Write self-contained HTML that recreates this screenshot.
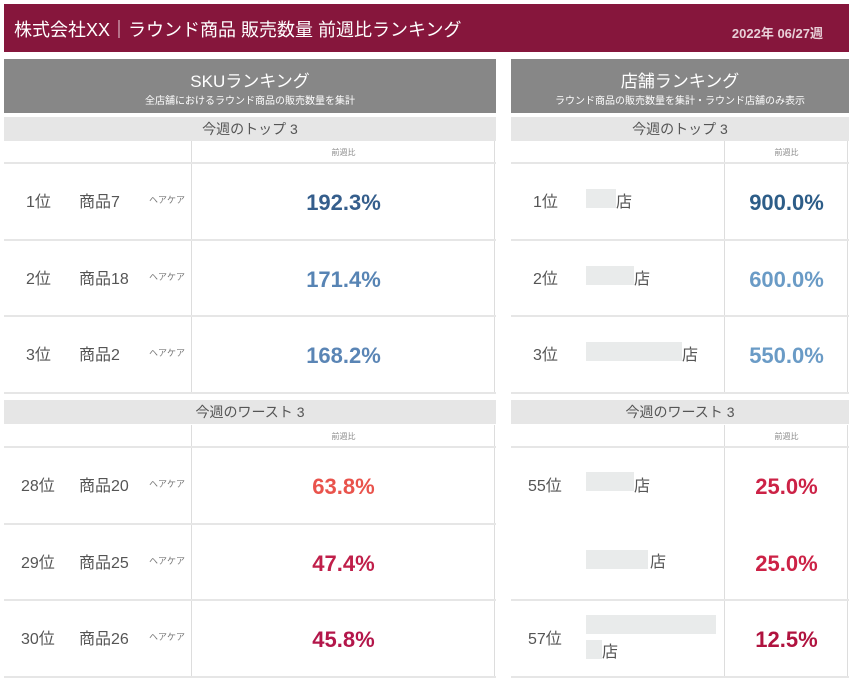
<!DOCTYPE html>
<html><head><meta charset="utf-8"><style>
body{margin:0;width:853px;height:678px;background:#fff;font-family:"Liberation Sans","Noto Sans CJK JP",sans-serif;position:relative;overflow:hidden}
div{position:absolute;box-sizing:border-box}
.hdr{left:4px;top:4px;width:845px;height:48px;background:#86163c;color:#fff}
.ph{background:#878787;color:#fff;text-align:center;height:54px;top:59px}
.sub{background:#e6e6e6;color:#555;text-align:center;font-size:14px;line-height:24px;height:24px}
.vline{width:1px;background:#ddd}
.hline{height:2px;background:#e6e6e6}
.t{white-space:nowrap;color:#555}
.v{font-weight:bold;font-size:22px;text-align:center;white-space:nowrap}
.box{background:#e9ebeb}
.ch{font-size:8px;color:#888;text-align:center}
</style></head><body>
<div class="hdr">
<div class="t" style="left:10px;top:12px;font-size:18px;color:#fff">株式会社XX｜ラウンド商品 販売数量 前週比ランキング</div>
<div class="t" style="right:26px;top:19px;font-size:13px;color:#e8d0d8;font-weight:bold">2022年 06/27週</div>
</div>

<div class="ph" style="left:4px;width:492px">
<div style="left:0;right:0;top:8px;font-size:17px">SKUランキング</div>
<div style="left:0;right:0;top:33px;font-size:10px">全店舗におけるラウンド商品の販売数量を集計</div></div>
<div class="sub" style="left:4px;width:492px;top:117px">今週のトップ 3</div>
<div class="sub" style="left:4px;width:492px;top:400px">今週のワースト 3</div>

<div class="ph" style="left:511px;width:338px">
<div style="left:0;right:0;top:8px;font-size:17px">店舗ランキング</div>
<div style="left:0;right:0;top:33px;font-size:10px">ラウンド商品の販売数量を集計・ラウンド店舗のみ表示</div></div>
<div class="sub" style="left:511px;width:338px;top:117px">今週のトップ 3</div>
<div class="sub" style="left:511px;width:338px;top:400px">今週のワースト 3</div>

<script>
const skuTopRanks=["1位","2位","3位"];
const skuTopNames=["商品7","商品18","商品2"];
const skuTopValues=["192.3%","171.4%","168.2%"];
const skuTopColors=["#355e8c","#5784b4","#5a85b5"];
const skuWorstRanks=["28位","29位","30位"];
const skuWorstNames=["商品20","商品25","商品26"];
const skuWorstValues=["63.8%","47.4%","45.8%"];
const skuWorstColors=["#e9534c","#c01f4a","#b3164a"];
const storeTopRanks=["1位","2位","3位"];
const storeTopBox=[30,48,96];
const storeTopValues=["900.0%","600.0%","550.0%"];
const storeTopColors=["#2d5d88","#6a9bc6","#6a9bc6"];
const storeWorstRanks=["55位","","57位"];
const storeWorstValues=["25.0%","25.0%","12.5%"];
const storeWorstColors=["#cc2246","#cc2246","#b0133f"];

function add(html,name){const d=document.createElement('div');d.innerHTML=html;const e=d.firstChild;


document.body.appendChild(e);return e;}

function section(x,w,div,top,ranks,vals,cols,kind,names){
 add(`<div class="vline" style="left:${div}px;top:${top}px;height:${3*77+22}px"></div>`,'column-divider');
 add(`<div class="vline" style="left:${x+w-2}px;top:${top}px;height:${3*77+22}px"></div>`,'right-border');
 add(`<div class="ch" style="left:${div}px;width:${x+w-div}px;top:${top+6}px">前週比</div>`,'column-header');
 for(let i=0;i<4;i++){
  if(kind==='storeWorst'&&i===1)continue;
  add(`<div class="hline" style="left:${x}px;width:${w}px;top:${top+21+i*76.5}px"></div>`,'row-separator');
 }
 for(let i=0;i<3;i++){
  const y=top+22+i*76.5;
  add(`<div class="v" style="left:${div}px;width:${x+w-div}px;top:${y+27}px;color:${cols[i]}">${vals[i]}</div>`,'value-'+kind+'-'+(i+1));
  if(ranks[i])add(`<div class="t" style="left:${x+(ranks[i].length>2?17:22)}px;top:${y+25}px;font-size:16px">${ranks[i]}</div>`,'rank');
  if(kind.startsWith('sku')){
   add(`<div class="t" style="left:${x+75}px;top:${y+25}px;font-size:16px">${names[i]}</div>`,'product-name');
   add(`<div class="t" style="left:${x+145}px;top:${y+30}px;font-size:9px;color:#777">ヘアケア</div>`,'category');
  }
 }
}
section(4,492,191,141,skuTopRanks,skuTopValues,skuTopColors,'skuTop',skuTopNames);
section(4,492,191,425,skuWorstRanks,skuWorstValues,skuWorstColors,'skuWorst',skuWorstNames);
section(511,338,724,141,storeTopRanks,storeTopValues,storeTopColors,'storeTop');
section(511,338,724,425,storeWorstRanks,storeWorstValues,storeWorstColors,'storeWorst');
for(let i=0;i<3;i++){const y=163+i*76.5;
 add(`<div class="box" style="left:586px;top:${y+26}px;width:${storeTopBox[i]}px;height:19px"></div>`,'masked-store-name');
 add(`<div class="t" style="left:${586+storeTopBox[i]}px;top:${y+25}px;font-size:16px">店</div>`,'store-suffix');}
add(`<div class="box" style="left:586px;top:472px;width:48px;height:19px"></div>`,'masked-store-name');
add(`<div class="t" style="left:634px;top:472px;font-size:16px">店</div>`,'store-suffix');
add(`<div class="box" style="left:586px;top:550px;width:62px;height:19px"></div>`,'masked-store-name');
add(`<div class="t" style="left:650px;top:548px;font-size:16px">店</div>`,'store-suffix');
add(`<div class="box" style="left:586px;top:615px;width:130px;height:19px"></div>`,'masked-store-name');
add(`<div class="box" style="left:586px;top:640px;width:16px;height:19px"></div>`,'masked-store-name');
add(`<div class="t" style="left:602px;top:638px;font-size:16px">店</div>`,'store-suffix');
</script>
</body></html>
